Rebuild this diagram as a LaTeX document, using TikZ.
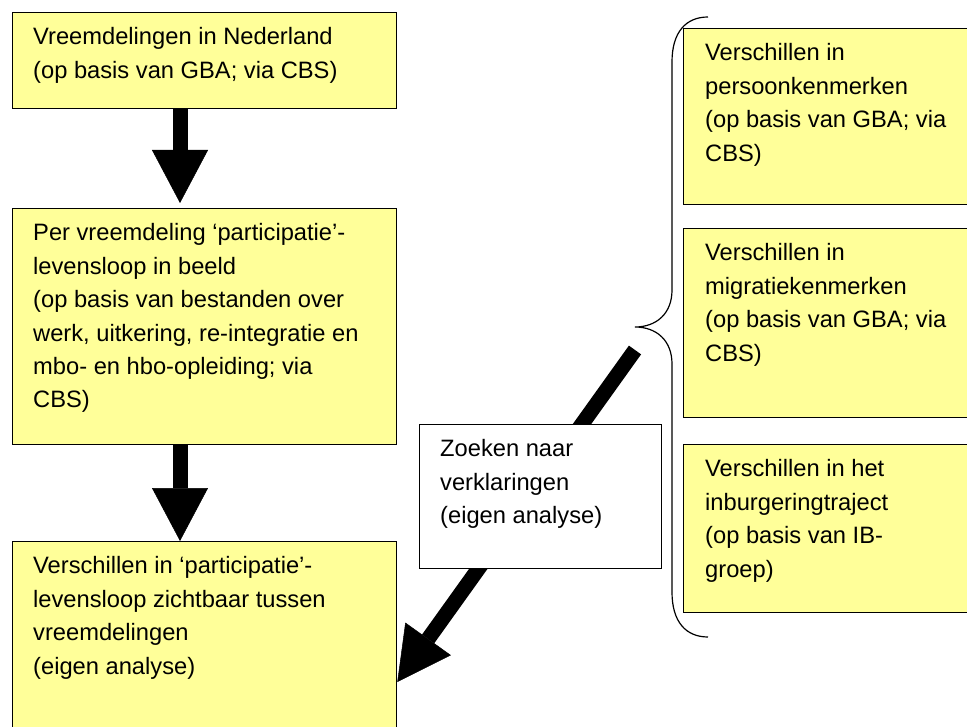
\documentclass[tikz,border=0pt]{standalone}
\usepackage{fontspec}
\setmainfont{Liberation Sans}
\usetikzlibrary{arrows.meta}
\definecolor{geel}{RGB}{255,255,153}

\begin{document}
\begin{tikzpicture}[x=1pt,y=-1pt,
  vak/.style={draw=black, line width=1.3pt, fill=geel, anchor=north west, inner sep=0pt},
  tekst/.style={anchor=north west, inner sep=0pt, align=left, font=\fontsize{23.7}{33.4}\selectfont, execute at begin node=\strut},
  blokpijl/.style={line width=15pt, -{Triangle[length=53pt, width=56pt, line width=0.5pt]}}]
\useasboundingbox (0,0) rectangle (967,727);
\clip (0,0) rectangle (967,727);

\node[vak, minimum width=384pt, minimum height=96pt] (vreemd) at (12,12) {};
\node[tekst] (vreemd-t) at ([shift={(21,15.5)}]vreemd.north west) {Vreemdelingen in Nederland\\(op basis van GBA; via CBS)};
\node[vak, minimum width=384pt, minimum height=236pt] (per) at (12,208) {};
\node[tekst] (per-t) at ([shift={(21,15.5)}]per.north west) {Per vreemdeling ‘participatie’-\\levensloop in beeld\\(op basis van bestanden over\\werk, uitkering, re-integratie en\\mbo- en hbo-opleiding; via\\CBS)};
\node[vak, minimum width=384pt, minimum height=230pt] (verschil) at (12,541) {};
\node[tekst] (verschil-t) at ([shift={(21,15.5)}]verschil.north west) {Verschillen in ‘participatie’-\\levensloop zichtbaar tussen\\vreemdelingen\\(eigen analyse)};

\node[vak, minimum width=300pt, minimum height=176pt] (persoon) at (683,28) {};
\node[tekst] (persoon-t) at ([shift={(22,15.5)}]persoon.north west) {Verschillen in\\persoonkenmerken\\(op basis van GBA; via\\CBS)};
\node[vak, minimum width=300pt, minimum height=189pt] (migratie) at (683,228) {};
\node[tekst] (migratie-t) at ([shift={(22,15.5)}]migratie.north west) {Verschillen in\\migratiekenmerken\\(op basis van GBA; via\\CBS)};
\node[vak, minimum width=300pt, minimum height=168pt] (inburg) at (683,444) {};
\node[tekst] (inburg-t) at ([shift={(22,15.5)}]inburg.north west) {Verschillen in het\\inburgeringtraject\\(op basis van IB-\\groep)};

\coordinate (haak) at (635,327);
\draw[line width=1.2pt] (708,17) .. controls (686,17) and (672,32) .. (672,62) -- (672,290)
  .. controls (672,314) and (656,327) .. (haak) .. controls (656,327) and (672,340) .. (672,364)
  -- (672,592) .. controls (672,622) and (686,637) .. (708,637);

\draw[blokpijl] ([xshift=168pt]vreemd.south west) -- ([xshift=168pt, yshift=5pt]per.north west);
\draw[blokpijl] ([xshift=168pt]per.south west) -- ([xshift=168pt]verschil.north west);
\coordinate (staart) at (635,350);
\draw[blokpijl] (staart) -- ([yshift=-141pt]verschil.north east);

\node[vak, fill=white, minimum width=242pt, minimum height=144pt] (zoeken) at (419,424) {};
\node[tekst] (zoeken-t) at ([shift={(21,15.5)}]zoeken.north west) {Zoeken naar\\verklaringen\\(eigen analyse)};
\end{tikzpicture}
\end{document}
